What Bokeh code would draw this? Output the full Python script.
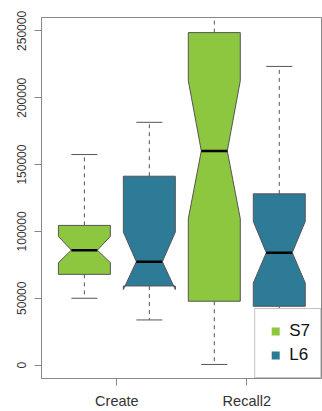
import numpy as np
from bokeh.plotting import figure
from bokeh.models import (FixedTicker, BasicTickFormatter, Legend, LegendItem,
                          ColumnDataSource, Range1d)
from bokeh.embed import file_html
from bokeh.resources import INLINE

# ---- data ----
groups = ["Create", "Recall2"]
series = ["S7", "L6"]
colors = ["#8DC63F", "#2E7B98"]
y_ticks = [0, 50000, 100000, 150000, 200000, 250000]

s7_low = [50000, 500]
s7_q1 = [67900, 47800]
s7_med = [86000, 160200]
s7_q3 = [104500, 248700]
s7_high = [157500, 275000]
s7_conf_lo = [76600, 109500]
s7_conf_hi = [96300, 212700]

l6_low = [33800, 5000]
l6_q1 = [59200, 44000]
l6_med = [77400, 84100]
l6_q3 = [141300, 128100]
l6_high = [181600, 223400]
l6_conf_lo = [56500, 61400]
l6_conf_hi = [99500, 107500]

stats = {
    "S7": dict(low=s7_low, q1=s7_q1, med=s7_med, q3=s7_q3, high=s7_high,
               clo=s7_conf_lo, chi=s7_conf_hi),
    "L6": dict(low=l6_low, q1=l6_q1, med=l6_med, q3=l6_q3, high=l6_high,
               clo=l6_conf_lo, chi=l6_conf_hi),
}

FONT = "Liberation Sans"
half_w = 0.4       # half box width (data units)
notch_frac = 0.5
cap_half = 0.2

p = figure(width=322, height=411,
           x_range=Range1d(0.34, 4.65), y_range=Range1d(-10000, 260000),
           output_backend="svg", toolbar_location=None,
           min_border_left=41, min_border_right=1,
           min_border_top=17, min_border_bottom=33)

p.background_fill_color = "white"
p.border_fill_color = "white"
p.outline_line_color = "#888888"
p.outline_line_width = 1
p.xgrid.visible = False
p.ygrid.visible = False

legend_items = []
for si, (name, col) in enumerate(zip(series, colors)):
    st = stats[name]
    xs_pos = [1 + si + 2 * gi for gi in range(len(groups))]
    # whiskers
    wsrc = ColumnDataSource(dict(
        x=xs_pos + xs_pos,
        y0=st["q3"] + st["q1"],
        y1=st["high"] + st["low"],
    ))
    p.segment(x0="x", y0="y0", x1="x", y1="y1", source=wsrc,
              line_color="#555555", line_width=1, line_dash="4 4")
    csrc = ColumnDataSource(dict(
        x0=[x - cap_half for x in xs_pos] * 2,
        x1=[x + cap_half for x in xs_pos] * 2,
        y=st["high"] + st["low"],
    ))
    p.segment(x0="x0", y0="y", x1="x1", y1="y", source=csrc,
              line_color="#555555", line_width=1)
    # notched boxes
    pxs, pys = [], []
    for gi, x in enumerate(xs_pos):
        fr = np.array([-1, 1, 1, notch_frac, 1, 1, -1, -1, -notch_frac, -1])
        pxs.append(list(x + half_w * fr))
        pys.append([st["q1"][gi], st["q1"][gi], st["clo"][gi], st["med"][gi],
                    st["chi"][gi], st["q3"][gi], st["q3"][gi], st["chi"][gi],
                    st["med"][gi], st["clo"][gi]])
    p.patches(xs=pxs, ys=pys, fill_color=col, line_color="#555555",
              line_width=1)
    # medians
    msrc = ColumnDataSource(dict(
        x0=[x - half_w * notch_frac for x in xs_pos],
        x1=[x + half_w * notch_frac for x in xs_pos],
        y=st["med"],
    ))
    p.segment(x0="x0", y0="y", x1="x1", y1="y", source=msrc,
              line_color="black", line_width=2.5)
    # legend glyph renderer (zero-size markers at the medians)
    lr = p.scatter(x=xs_pos, y=st["med"], size=0, marker="square",
                   fill_color=col, line_color=None)
    legend_items.append(LegendItem(label=name, renderers=[lr]))

# axes
p.yaxis.ticker = FixedTicker(ticks=y_ticks)
p.yaxis.formatter = BasicTickFormatter(use_scientific=False)
p.yaxis.major_label_orientation = "vertical"
p.xaxis.ticker = FixedTicker(ticks=[1.5, 3.5])
p.xaxis.major_label_overrides = {1.5: groups[0], 3.5: groups[1]}
for ax in (p.xaxis, p.yaxis):
    ax.axis_line_color = None
    ax.major_tick_out = 7
    ax.major_tick_in = 0
    ax.minor_tick_line_color = None
    ax.major_tick_line_color = "#888888"
    ax.major_label_text_font = FONT
    ax.major_label_text_color = "#333333"
p.yaxis.major_label_text_font_size = "12px"
p.yaxis.major_label_standoff = 8
p.xaxis.major_label_text_font_size = "14.5px"
p.xaxis.major_label_standoff = 7

legend = Legend(items=legend_items, location="bottom_right", margin=0,
                padding=10, spacing=0, glyph_width=20, glyph_height=24,
                label_height=24, label_standoff=4,
                label_text_font=FONT, label_text_font_size="17px",
                label_text_color="#111111",
                border_line_color="#888888", border_line_width=1,
                background_fill_color="white", background_fill_alpha=1)
p.add_layout(legend)

open("out.html", "w").write(file_html(p, INLINE))
